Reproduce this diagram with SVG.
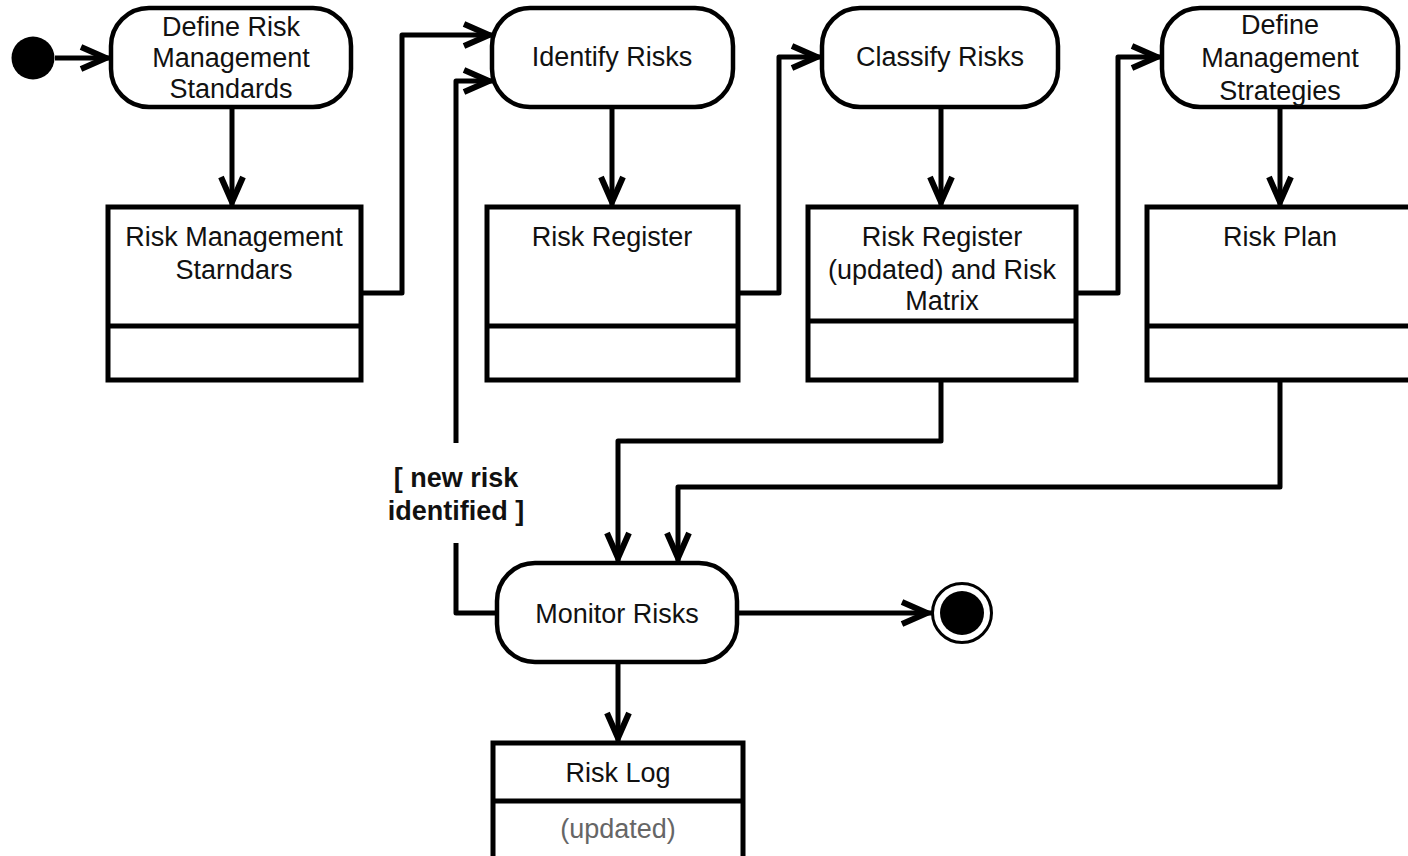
<svg xmlns="http://www.w3.org/2000/svg" width="1408" height="856" viewBox="0 0 1408 856">
<defs>
<style>
.act{fill:#fff;stroke:#000;stroke-width:4.5}
.obj{fill:#fff;stroke:#000;stroke-width:5}
.t{font-family:"Liberation Sans",Arial,sans-serif;font-size:27px;fill:#111;text-anchor:middle}
.g{fill:#666}
.lbl{font-family:"Liberation Sans",Arial,sans-serif;font-size:27px;font-weight:bold;fill:#111;text-anchor:middle}
.c{fill:none;stroke:#000;stroke-width:5;stroke-linejoin:round}
</style>
<marker id="arr" markerUnits="userSpaceOnUse" markerWidth="60" markerHeight="60" viewBox="-40 -30 60 60" refX="0" refY="0" orient="auto" overflow="visible">
<path d="M-30,-11 L-5,0 L-30,11" fill="none" stroke="#000" stroke-width="6"/>
</marker>
</defs>
<rect width="1408" height="856" fill="#fff"/>
<g id="connectors">
<path class="c" d="M55,58 H111" marker-end="url(#arr)"/>
<path class="c" d="M232,107 V207" marker-end="url(#arr)"/>
<path class="c" d="M361,293 H402 V35 H494" marker-end="url(#arr)"/>
<path class="c" d="M497,613 H456 V543 M456,443 V81 H494" marker-end="url(#arr)"/>
<path class="c" d="M612,107 V207" marker-end="url(#arr)"/>
<path class="c" d="M738,293 H779 V57 H822" marker-end="url(#arr)"/>
<path class="c" d="M941,107 V207" marker-end="url(#arr)"/>
<path class="c" d="M1076,293 H1118 V57 H1162" marker-end="url(#arr)"/>
<path class="c" d="M1280,107 V207" marker-end="url(#arr)"/>
<path class="c" d="M941,380 V441 H618 V563" marker-end="url(#arr)"/>
<path class="c" d="M1280,380 V487 H678 V563" marker-end="url(#arr)"/>
<path class="c" d="M618,662 V743" marker-end="url(#arr)"/>
<path class="c" d="M737,613 H932" marker-end="url(#arr)"/>
<text class="lbl" x="456" y="487">[ new risk</text>
<text class="lbl" x="456" y="520">identified ]</text>
</g>
<g id="start">
<circle cx="33" cy="58" r="21.5" fill="#000"/>
</g>
<g id="a1">
<rect class="act" x="111" y="8" width="240" height="99" rx="38" ry="38"/>
<text class="t" x="231" y="36">Define Risk</text>
<text class="t" x="231" y="67">Management</text>
<text class="t" x="231" y="98">Standards</text>
</g>
<g id="a2">
<rect class="act" x="492" y="8" width="241" height="99" rx="38" ry="38"/>
<text class="t" x="612" y="66">Identify Risks</text>
</g>
<g id="a3">
<rect class="act" x="822" y="8" width="236" height="99" rx="38" ry="38"/>
<text class="t" x="940" y="66">Classify Risks</text>
</g>
<g id="a4">
<rect class="act" x="1162" y="8" width="236" height="99" rx="38" ry="38"/>
<text class="t" x="1280" y="34">Define</text>
<text class="t" x="1280" y="67">Management</text>
<text class="t" x="1280" y="100">Strategies</text>
</g>
<g id="o1">
<rect class="obj" x="108" y="207" width="253" height="173"/>
<line class="obj" x1="108" y1="326" x2="361" y2="326"/>
<text class="t" x="234" y="246">Risk Management</text>
<text class="t" x="234" y="279">Starndars</text>
</g>
<g id="o2">
<rect class="obj" x="487" y="207" width="251" height="173"/>
<line class="obj" x1="487" y1="326" x2="738" y2="326"/>
<text class="t" x="612" y="246">Risk Register</text>
</g>
<g id="o3">
<rect class="obj" x="808" y="207" width="268" height="173"/>
<line class="obj" x1="808" y1="321" x2="1076" y2="321"/>
<text class="t" x="942" y="246">Risk Register</text>
<text class="t" x="942" y="279">(updated) and Risk</text>
<text class="t" x="942" y="310">Matrix</text>
</g>
<g id="o4">
<rect class="obj" x="1147" y="207" width="280" height="173"/>
<line class="obj" x1="1147" y1="326" x2="1427" y2="326"/>
<text class="t" x="1280" y="246">Risk Plan</text>
</g>
<g id="a5">
<rect class="act" x="497" y="563" width="240" height="99" rx="38" ry="38"/>
<text class="t" x="617" y="623">Monitor Risks</text>
</g>
<g id="o5">
<rect class="obj" x="493" y="743" width="250" height="130"/>
<line class="obj" x1="493" y1="801" x2="743" y2="801"/>
<text class="t" x="618" y="782">Risk Log</text>
<text class="t g" x="618" y="838">(updated)</text>
</g>
<g id="end">
<circle cx="962" cy="613" r="29.5" fill="#fff" stroke="#000" stroke-width="3"/>
<circle cx="962" cy="613" r="22" fill="#000"/>
</g>
</svg>
